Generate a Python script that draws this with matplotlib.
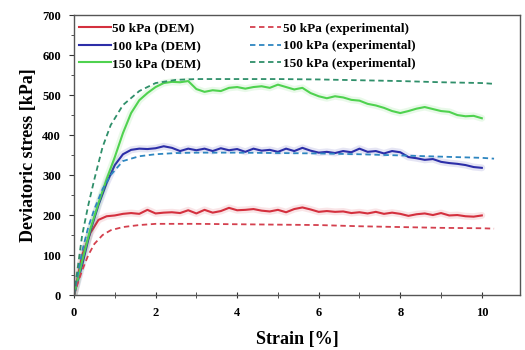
import matplotlib
matplotlib.use("Agg")
import matplotlib.pyplot as plt
import numpy as np

plt.rcParams['font.family'] = ['Liberation Serif', 'DejaVu Serif']
plt.rcParams['font.weight'] = 'bold'

strain_dem = [0.0, 0.2, 0.4, 0.6, 0.8, 1.0, 1.2, 1.4, 1.6, 1.8, 2.0, 2.2, 2.4, 2.6, 2.8,
              3.0, 3.2, 3.4, 3.6, 3.8, 4.0, 4.2, 4.4, 4.6, 4.8, 5.0, 5.2, 5.4, 5.6, 5.8,
              6.0, 6.2, 6.4, 6.6, 6.8, 7.0, 7.2, 7.4, 7.6, 7.8, 8.0, 8.2, 8.4, 8.6, 8.8,
              9.0, 9.2, 9.4, 9.6, 9.8, 10.0]
dem_50 = [0, 100, 155, 188, 197, 199, 203, 205, 203, 213, 204, 206, 207, 205, 212,
          204, 213, 206, 210, 218, 212, 213, 215, 211, 209, 213, 207, 215, 219, 214,
          208, 210, 208, 209, 205, 207, 204, 208, 203, 206, 203, 198, 202, 204, 200,
          205, 199, 200, 197, 196, 199]
dem_100 = [0, 75, 160, 225, 280, 325, 352, 363, 366, 365, 367, 372, 368, 360, 366,
           362, 366, 360, 367, 362, 365, 358, 366, 361, 363, 358, 366, 360, 368, 361,
           356, 358, 355, 360, 357, 366, 358, 360, 354, 360, 357, 345, 342, 338, 340,
           333, 330, 328, 325, 320, 318]
dem_150 = [0, 85, 165, 230, 290, 345, 405, 455, 487, 505, 520, 530, 533, 532, 535,
           515, 508, 512, 510, 518, 520, 516, 520, 522, 518, 526, 520, 514, 518, 505,
           497, 492, 497, 494, 488, 486, 478, 474, 468, 460, 455, 460, 466, 470, 465,
           460, 458, 450, 447, 448, 442]

strain_exp = [0.0, 0.1, 0.2, 0.35, 0.5, 0.7, 0.9, 1.2, 1.6, 2.0, 2.5, 3.0, 4.0, 5.0,
              6.0, 7.0, 8.0, 9.0, 10.0, 10.3]
exp_50 = [0, 32, 62, 100, 128, 150, 162, 170, 175, 178, 178, 178, 177, 176,
          175, 172, 170, 168, 167, 166]
exp_100 = [0, 55, 110, 170, 215, 265, 300, 335, 347, 352, 355, 356, 356, 355,
           354, 352, 349, 346, 343, 341]
exp_150 = [0, 75, 150, 225, 290, 370, 425, 475, 510, 530, 538, 540, 540, 540,
           539, 537, 535, 532, 530, 528]

labels_dem = ['50 kPa (DEM)', '100 kPa (DEM)', '150 kPa (DEM)']
labels_exp = ['50 kPa (experimental)', '100 kPa (experimental)', '150 kPa (experimental)']
col_dem = ['#d4303e', '#2c2ea8', '#4fd24f']
col_exp = ['#d4404e', '#2e86c0', '#2f8f6a']

fig = plt.figure(figsize=(5.25, 3.5), dpi=100)
ax = fig.add_axes([0.141, 0.157, 0.849, 0.8])

handles = []
for d, c, l in zip([dem_50, dem_100, dem_150], col_dem, labels_dem):
    ax.plot(strain_dem, d, color=c, lw=5, alpha=0.12, solid_capstyle='round')
    h, = ax.plot(strain_dem, d, color=c, lw=1.5, label=l)
    handles.append(h)
for d, c, l in zip([exp_50, exp_100, exp_150], col_exp, labels_exp):
    h, = ax.plot(strain_exp, d, color=c, lw=1.3, ls=(0, (3, 2)), label=l)
    handles.append(h)

ax.set_xlim(0, 10.93)
ax.set_ylim(0, 700)
ax.set_xticks([0, 2, 4, 6, 8, 10])
ax.set_xticks([1, 3, 5, 7, 9], minor=True)
ax.set_yticks(np.arange(0, 701, 100))
ax.set_yticks(np.arange(50, 700, 100), minor=True)
ax.tick_params(axis='x', which='major', labelsize=9, length=5, direction='inout',
               pad=6, color='#333333')
ax.tick_params(axis='x', which='minor', length=4, direction='inout', color='#333333')
ax.tick_params(axis='y', which='major', labelsize=9, length=3.5, pad=6, color='#333333')
ax.tick_params(axis='y', which='minor', length=2.5, color='#333333')
for lab in ax.get_xticklabels() + ax.get_yticklabels():
    lab.set_fontweight('bold')
for s in ax.spines.values():
    s.set_color('#555555')
    s.set_linewidth(1.0)

ax.set_xlabel('Strain [%]', fontsize=13, fontweight='bold', labelpad=9)
ax.set_ylabel('Deviatoric stress [kPa]', fontsize=13, fontweight='bold', labelpad=4)

ax.legend(handles=handles, ncol=2, loc='upper left', frameon=False,
          prop={'size': 9.5, 'weight': 'bold'}, handlelength=2.4,
          handletextpad=0.1, columnspacing=3.7, labelspacing=0.42,
          bbox_to_anchor=(-0.005, 1.0), borderaxespad=0.15)

fig.savefig('out.png', dpi=100)
